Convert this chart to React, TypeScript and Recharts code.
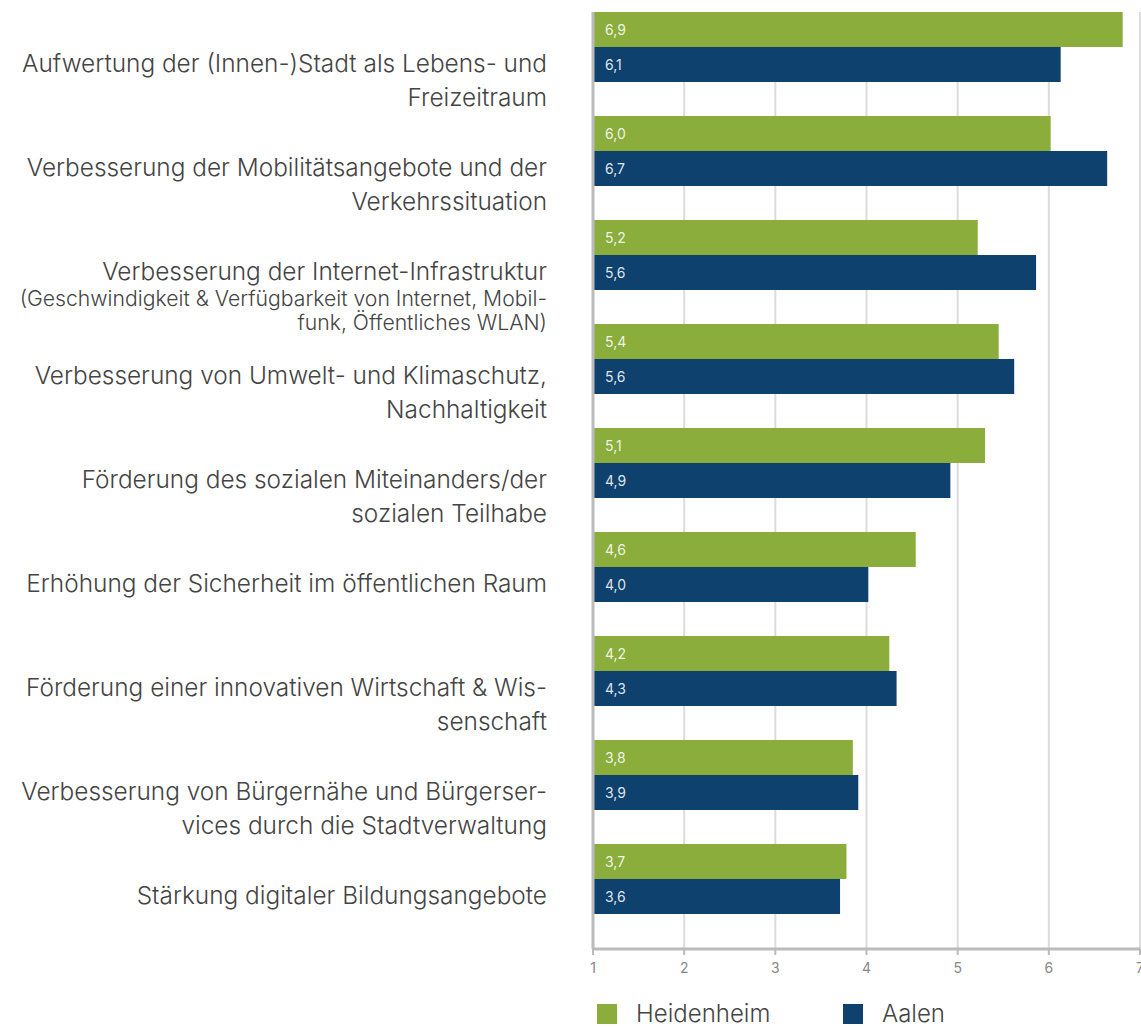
import { BarChart, Bar, XAxis, YAxis, CartesianGrid, LabelList } from 'recharts';

const categories = [
  'Aufwertung der (Innen-)Stadt als Lebens- und\nFreizeitraum',
  'Verbesserung der Mobilitätsangebote und der\nVerkehrssituation',
  'Verbesserung der Internet-Infrastruktur',
  'Verbesserung von Umwelt- und Klimaschutz,\nNachhaltigkeit',
  'Förderung des sozialen Miteinanders/der\nsozialen Teilhabe',
  'Erhöhung der Sicherheit im öffentlichen Raum',
  'Förderung einer innovativen Wirtschaft & Wis-\nsenschaft',
  'Verbesserung von Bürgernähe und Bürgerser-\nvices durch die Stadtverwaltung',
  'Stärkung digitaler Bildungsangebote',
];

const categoryNotes = [
  '',
  '',
  '(Geschwindigkeit & Verfügbarkeit von Internet, Mobil-\nfunk, Öffentliches WLAN)',
  '',
  '',
  '',
  '',
  '',
  '',
];

const heidenheim = [6.81, 6.02, 5.22, 5.45, 5.3, 4.54, 4.25, 3.85, 3.78];
const aalen = [6.13, 6.64, 5.86, 5.62, 4.92, 4.02, 4.33, 3.91, 3.71];

const heidenheimLabels = ['6,9', '6,0', '5,2', '5,4', '5,1', '4,6', '4,2', '3,8', '3,7'];
const aalenLabels = ['6,1', '6,7', '5,6', '5,6', '4,9', '4,0', '4,3', '3,9', '3,6'];

const xTicks = [1, 2, 3, 4, 5, 6, 7];

const GREEN = '#8aad3c';
const BLUE = '#0e416e';
const FONT = 'Inter, "Noto Sans", sans-serif';

const data = categories.map((name, i) => ({
  name,
  Heidenheim: heidenheim[i],
  Aalen: aalen[i],
  hLabel: heidenheimLabels[i],
  aLabel: aalenLabels[i],
}));

function CategoryTick(props: any) {
  const { x, y, payload, index } = props;
  const lines = String(payload.value).split('\n');
  const note = categoryNotes[index] ? categoryNotes[index].split('\n') : [];
  const first = y + 16;
  const lastMain = first + (lines.length - 1) * 34;
  return (
    <g>
      {lines.map((line, i) => (
        <text
          key={'m' + i}
          x={x}
          y={first + i * 34}
          textAnchor="end"
          dominantBaseline="central"
          fontSize={24.4}
          fontWeight={300}
          fontFamily={FONT}
          fill="#444"
        >
          {line}
        </text>
      ))}
      {note.map((line, i) => (
        <text
          key={'n' + i}
          x={x}
          y={lastMain + 27 + i * 24}
          textAnchor="end"
          dominantBaseline="central"
          fontSize={21.2}
          fontWeight={300}
          fontFamily={FONT}
          fill="#444"
        >
          {line}
        </text>
      ))}
    </g>
  );
}

function ValueLabel(props: any) {
  const { x, y, height, value } = props;
  return (
    <text
      x={x + 12}
      y={y + height / 2}
      dominantBaseline="central"
      fontSize={14}
      fontFamily={FONT}
      fill="#fff"
      fillOpacity={0.88}
    >
      {value}
    </text>
  );
}

export default function App() {
  return (
    <div style={{ position: 'absolute', left: 0, top: 0, width: 1141, height: 1027, background: '#fff' }}>
      <BarChart
        width={1141}
        height={1027}
        data={data}
        layout="vertical"
        margin={{ top: 12, right: 1, left: 0, bottom: 48 }}
        barGap={0}
        barSize={35}
      >
        <CartesianGrid horizontal={false} stroke="#dcdcdc" strokeWidth={2} />
        <XAxis
          type="number"
          domain={[1, 7]}
          ticks={xTicks}
          allowDataOverflow
          height={30}
          axisLine={{ stroke: '#bbb', strokeWidth: 3 }}
          tickLine={{ stroke: '#bbb', strokeWidth: 2 }}
          tickSize={6}
          tickMargin={8}
          tick={{ fontSize: 14, fill: '#888', fontFamily: FONT }}
          interval={0}
        />
        <YAxis
          type="category"
          dataKey="name"
          width={593}
          padding={{ top: -17, bottom: 18 }}
          axisLine={{ stroke: '#bbb', strokeWidth: 3 }}
          tickLine={false}
          tickSize={0}
          tickMargin={46}
          interval={0}
          tick={<CategoryTick />}
        />
        <Bar dataKey="Heidenheim" fill={GREEN} isAnimationActive={false}>
          <LabelList dataKey="hLabel" content={<ValueLabel />} />
        </Bar>
        <Bar dataKey="Aalen" fill={BLUE} isAnimationActive={false}>
          <LabelList dataKey="aLabel" content={<ValueLabel />} />
        </Bar>
      </BarChart>
      <div
        style={{
          position: 'absolute',
          left: 597,
          top: 1004,
          display: 'flex',
          alignItems: 'center',
          fontFamily: FONT,
          fontSize: 24,
          fontWeight: 300,
          color: '#444',
          lineHeight: '20px',
        }}
      >
        <span style={{ width: 20, height: 20, background: GREEN, display: 'inline-block' }} />
        <span style={{ marginLeft: 19, width: 207 }}>Heidenheim</span>
        <span style={{ width: 20, height: 20, background: BLUE, display: 'inline-block' }} />
        <span style={{ marginLeft: 19 }}>Aalen</span>
      </div>
    </div>
  );
}
